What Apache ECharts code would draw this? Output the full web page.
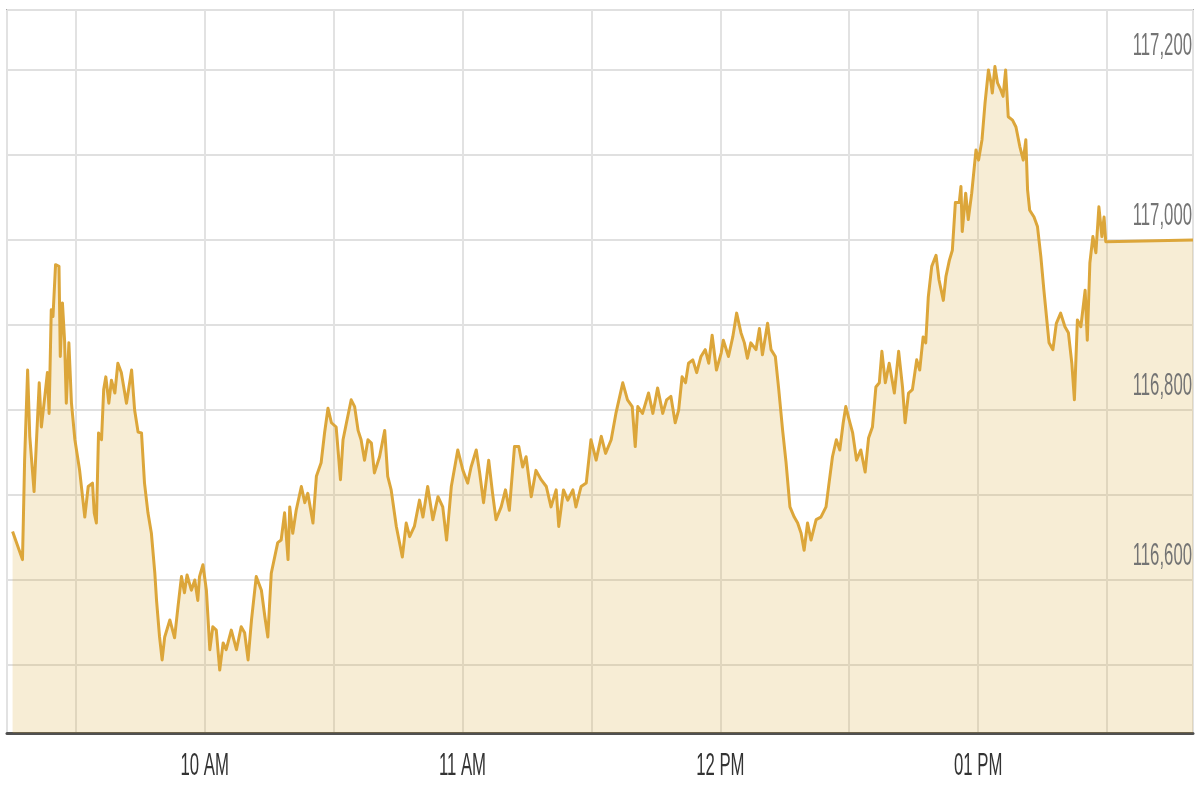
<!DOCTYPE html>
<html>
<head>
<meta charset="utf-8">
<script src="https://cdn.jsdelivr.net/npm/echarts@6/dist/echarts.min.js"></script>
<style>
  html, body { margin: 0; padding: 0; background: #ffffff; }
  #chart { width: 1200px; height: 800px; }
</style>
</head>
<body>
<div id="chart"></div>
<script>
// Session timing: minutes after the 09:15 open
const OPEN_MINUTE = 555;          // 09:15 in minutes since midnight
const AXIS_START = 554;           // 09:14
const AXIS_END = 830;             // 13:50

const minutesAfterOpen = [
  0.3, 2.6, 2.8, 3.1, 3.8, 4.3, 5.3, 6.5, 7.0, 7.8, 8.4, 8.8, 9.3, 9.7, 10.3, 11.1, 11.4, 11.9, 12.4, 12.8,
  13.4, 14.0, 14.8, 15.9, 17.1, 17.9, 18.9, 19.3, 19.8, 20.3, 21.0, 21.5, 22.0, 22.7, 23.3, 24.1, 24.8, 25.6, 26.8, 28.0,
  28.7, 29.5, 30.3, 31.0, 31.8, 32.6, 33.4,
  33.8, 34.5, 35.1, 35.7, 36.9, 38.0, 38.8, 39.6, 40.3, 40.9, 41.9, 42.7, 43.4, 43.8, 44.6, 45.4, 46.2, 46.9, 47.7, 48.5,
  49.3, 50.0, 51.2, 52.4, 53.5, 54.3, 55.1, 55.9, 57.0, 58.2, 59.0, 59.7, 60.5,
  62.0, 62.8, 63.6, 64.4, 64.8, 65.5, 66.3, 67.5, 68.3, 69.0, 70.2, 71.0, 72.1, 72.9, 73.7, 74.5, 75.6, 76.6, 77.2, 78.0,
  79.1, 79.9, 80.7, 81.4, 82.2,
  83.0, 83.8, 84.5, 85.7, 86.9, 87.6, 88.4, 89.6, 91.0, 91.9, 92.7, 93.8, 95.0, 95.8, 96.9, 98.1, 99.3, 100.4, 101.3, 102.4,
  103.9, 105.1, 106.2, 107.0, 108.2, 109.0, 109.9, 111.1, 112.0, 112.8, 114.0, 115.0, 115.9, 117.1, 118.1, 119.0, 119.8, 121.0, 122.1, 123.3,
  124.5, 125.6, 126.8, 127.4, 128.5, 129.5, 130.7, 131.4, 132.6, 133.8,
  134.9, 136.1, 137.3, 138.3, 139.6, 140.7, 142.3, 143.4, 144.5, 145.2, 145.8, 146.9, 148.3, 149.3, 150.4, 151.6, 152.5, 153.5, 154.5, 155.3,
  156.1, 156.9, 157.6, 158.6, 159.5, 160.5, 161.5, 162.3, 163.1, 164.1, 165.2, 165.7, 166.9, 167.9, 168.8, 169.8, 170.6, 171.3, 172.1, 173.3,
  174.1, 174.8, 176.0, 176.8, 177.8, 178.6,
  179.5, 180.3, 181.2, 182.2, 183.0, 183.8, 184.5, 185.3, 186.1, 187.3, 188.4, 189.6, 190.3, 191.1, 192.0, 192.8, 193.6, 194.2, 195.0, 195.8,
  196.7, 197.7, 198.7, 199.5, 200.4, 201.2, 202.0, 202.6, 203.4, 204.3, 205.5, 206.5, 207.4, 208.0, 208.8, 209.7, 210.7, 211.4, 212.2, 212.8,
  213.4, 214.2, 215.2, 215.9, 216.9, 217.5, 218.3, 219.0, 219.7, 220.6, 221.0, 221.3, 222.1, 222.7, 223.5, 224.5, 225.1, 225.9, 226.6, 227.4,
  228.0, 228.3, 228.9, 229.5, 230.3, 230.8, 231.4, 232.0, 233.0, 233.8, 234.7, 235.5, 236.1, 236.5, 237.0, 238.0, 238.8, 239.6, 240.3, 240.9,
  241.5, 242.4, 243.2, 244.2, 245.2, 246.0, 246.8, 247.4, 248.1, 248.9, 249.9, 250.4, 251.0, 251.7, 252.4, 253.1, 253.8, 254.3, 254.7, 255.0,
  275.0
];

const prices = [
  116657, 116624, 116669, 116741, 116847, 116769, 116704, 116832, 116780, 116816, 116844, 116796, 116918, 116910, 116971, 116969, 116863, 116926, 116882, 116808,
  116879, 116808, 116765, 116729, 116674, 116710, 116714, 116679, 116667, 116773, 116765, 116824, 116839, 116808, 116835, 116820, 116855, 116844, 116808, 116847,
  116800, 116774, 116773, 116714, 116679, 116655, 116608,
  116576, 116533, 116506, 116533, 116553, 116532, 116569, 116604, 116585, 116606, 116588, 116600, 116576, 116604, 116618, 116588, 116518, 116545, 116541, 116494,
  116526, 116518, 116541, 116518, 116545, 116538, 116506, 116553, 116604, 116588, 116557, 116533, 116608,
  116644, 116647, 116679, 116624, 116686, 116655, 116682, 116710, 116691, 116702, 116667, 116722, 116738, 116773, 116802, 116785, 116780, 116718, 116765, 116785,
  116812, 116804, 116776, 116765, 116741,
  116765, 116761, 116726, 116745, 116776, 116722, 116706, 116663, 116627, 116667, 116651, 116663, 116694, 116674, 116710, 116671, 116698, 116686, 116647, 116710,
  116753, 116729, 116714, 116733, 116753, 116726, 116691, 116741, 116702, 116671, 116686, 116706, 116682, 116757, 116757, 116733, 116745, 116698, 116729, 116718,
  116710, 116686, 116706, 116663, 116706, 116694, 116706, 116686, 116710, 116714,
  116765, 116741, 116769, 116749, 116765, 116796, 116832, 116812, 116804, 116757, 116804, 116796, 116820, 116796, 116826, 116796, 116812, 116816, 116785, 116800,
  116839, 116832, 116855, 116859, 116844, 116863, 116871, 116855, 116888, 116847, 116867, 116882, 116863, 116886, 116914, 116891, 116879, 116861, 116879, 116871,
  116896, 116865, 116902, 116871, 116863, 116824,
  116776, 116738, 116686, 116674, 116667, 116655, 116635, 116667, 116647, 116671, 116674, 116686, 116714, 116745, 116765, 116753, 116785, 116804, 116788, 116773,
  116741, 116753, 116727, 116767, 116780, 116827, 116832, 116869, 116832, 116855, 116820, 116869, 116827, 116785, 116820, 116824, 116859, 116847, 116886, 116879,
  116933, 116969, 116982, 116953, 116929, 116957, 116976, 116988, 117044, 117044, 117063, 117010, 117055, 117024, 117055, 117106, 117094, 117118, 117161, 117200,
  117185, 117173, 117204, 117185, 117176, 117169, 117200, 117145, 117141, 117133, 117110, 117094, 117118, 117059, 117035, 117027, 117016, 116980, 116941, 116910,
  116879, 116871, 116902, 116914, 116898, 116891, 116855, 116812, 116906, 116898, 116941, 116882, 116973, 117004, 116985, 117039, 117004, 117027, 116998, 117000,
  117000
];

// Tick labels
const xTickMinutes = [600, 660, 720, 780];
const xTickLabels = ['10 AM', '11 AM', '12 PM', '01 PM'];
const yTickValues = [116600, 116800, 117000, 117200];
const yTickLabels = ['116,600', '116,800', '117,000', '117,200'];

const Y_MIN = 116420;
const Y_MAX = 117270.6;
const Y_STEP = 100;
const X_STEP = 30;        // half-hour gridlines

const seriesData = minutesAfterOpen.map((m, i) => [OPEN_MINUTE + m, prices[i]]);

const FONT = "'Liberation Sans', Arial, sans-serif";
const LABEL_FONT_SIZE = 31;
const LABEL_SCALE_X = 0.54;

const chart = echarts.init(document.getElementById('chart'), null, { renderer: 'canvas' });
chart.setOption({
  animation: false,
  backgroundColor: '#ffffff',
  grid: {
    left: 7, right: 7, top: 10, bottom: 67,
    show: true,
    borderColor: '#a9a9a9',
    borderWidth: 2,
    backgroundColor: 'transparent'
  },
  xAxis: {
    type: 'value',
    min: AXIS_START,
    max: AXIS_END,
    minInterval: X_STEP,
    maxInterval: X_STEP,
    axisLine: { show: true, onZero: false, lineStyle: { color: '#505050', width: 3 } },
    axisTick: { show: false },
    splitLine: { show: true, lineStyle: { color: '#e2e2e2', width: 2 } },
    axisLabel: { show: false }
  },
  yAxis: {
    type: 'value',
    position: 'right',
    min: Y_MIN,
    max: Y_MAX,
    minInterval: Y_STEP,
    maxInterval: Y_STEP,
    axisLine: { show: false },
    axisTick: { show: false },
    splitLine: { show: true, lineStyle: { color: '#e0e0e0', width: 2 } },
    axisLabel: { show: false }
  },
  series: [{
    type: 'line',
    data: seriesData,
    showSymbol: false,
    symbol: 'none',
    smooth: false,
    lineStyle: { color: '#dca63a', width: 3, join: 'round' },
    areaStyle: { color: 'rgba(216, 168, 58, 0.3)' },
    silent: true,
    z: 2
  }, {
    // hour labels under the time axis (condensed text)
    type: 'custom',
    silent: true,
    clip: false,
    z: 5,
    data: xTickMinutes.map(m => [m, Y_MIN]),
    renderItem: function (params, api) {
      const p = api.coord([api.value(0), api.value(1)]);
      return {
        type: 'text',
        x: p[0],
        y: p[1] + 33,
        scaleX: LABEL_SCALE_X,
        style: {
          text: xTickLabels[params.dataIndex],
          fontSize: LABEL_FONT_SIZE,
          fontFamily: FONT,
          fill: '#333333',
          align: 'center',
          verticalAlign: 'middle'
        }
      };
    }
  }, {
    // price labels inside the plot, right-aligned above their gridlines
    type: 'custom',
    silent: true,
    clip: false,
    z: 5,
    data: yTickValues.map(v => [AXIS_END, v]),
    renderItem: function (params, api) {
      const p = api.coord([api.value(0), api.value(1)]);
      return {
        type: 'text',
        x: p[0] - 1,
        y: p[1] - 24,
        scaleX: LABEL_SCALE_X,
        style: {
          text: yTickLabels[params.dataIndex],
          fontSize: LABEL_FONT_SIZE,
          fontFamily: FONT,
          fill: '#747474',
          align: 'right',
          verticalAlign: 'middle'
        }
      };
    }
  }]
});
</script>
</body>
</html>
